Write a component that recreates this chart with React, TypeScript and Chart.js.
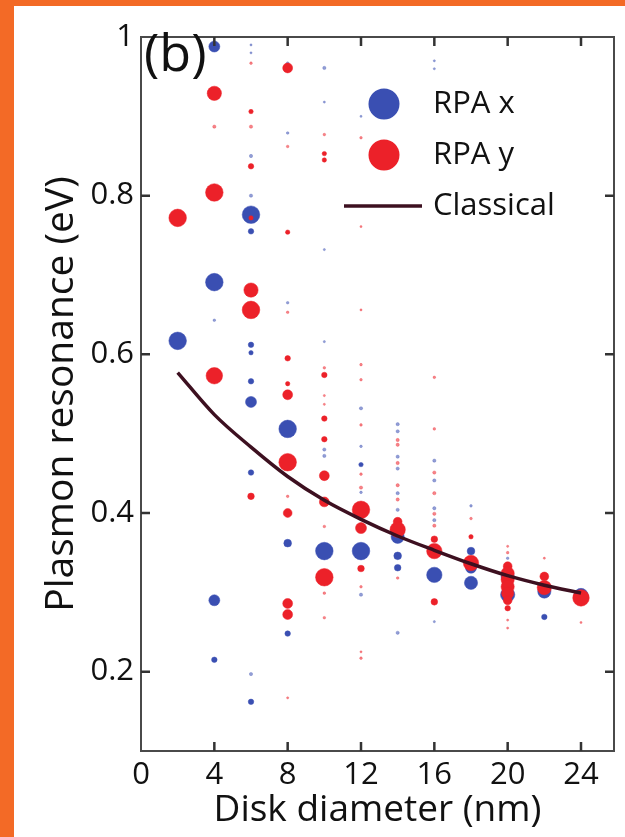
import React, { useEffect, useRef } from "react";
import { Chart, registerables } from "chart.js";
Chart.register(...registerables);

// ---- data ----
const xTickValues = [0, 4, 8, 12, 16, 20, 24];
const yTickValues = [0.2, 0.4, 0.6, 0.8, 1.0];

const classicalDiameter = [2, 4, 6, 8, 10, 12, 14, 16, 18, 20, 22, 24];
const classicalEnergy = [0.577, 0.524, 0.483, 0.446, 0.416, 0.392, 0.371, 0.353, 0.336, 0.321, 0.309, 0.299];

// [disk diameter (nm), resonance (eV), strength]
const rpaX: [number, number, number][] = [
  [2, 0.617, 8],
  [4, 0.988, 5], [4, 0.691, 8], [4, 0.643, 1.2], [4, 0.29, 5], [4, 0.215, 2.5],
  [6, 0.99, 1], [6, 0.98, 1], [6, 0.85, 1.5], [6, 0.8, 1.5], [6, 0.776, 8], [6, 0.755, 2.5],
  [6, 0.612, 2.5], [6, 0.602, 2], [6, 0.566, 2.5], [6, 0.54, 5], [6, 0.451, 2.5], [6, 0.197, 1.5], [6, 0.162, 2.5],
  [8, 0.967, 1.2], [8, 0.879, 1.2], [8, 0.665, 1.2], [8, 0.506, 8], [8, 0.362, 3.5], [8, 0.248, 2.5],
  [10, 0.961, 1.5], [10, 0.918, 1], [10, 0.732, 1], [10, 0.616, 1], [10, 0.48, 1.5], [10, 0.472, 1.5], [10, 0.352, 8],
  [12, 0.9, 1], [12, 0.532, 1.5], [12, 0.484, 1.2], [12, 0.461, 2], [12, 0.426, 1.2], [12, 0.352, 8], [12, 0.297, 1.5],
  [14, 0.512, 1.5], [14, 0.503, 1.5], [14, 0.471, 1.5], [14, 0.456, 1.5], [14, 0.425, 1.5], [14, 0.404, 1.5],
  [14, 0.37, 6], [14, 0.346, 3.5], [14, 0.331, 3], [14, 0.249, 1.5],
  [16, 0.97, 1], [16, 0.96, 1], [16, 0.466, 1.5], [16, 0.441, 1.5], [16, 0.406, 1.5], [16, 0.391, 1.5], [16, 0.322, 7], [16, 0.263, 1],
  [18, 0.409, 1.2], [18, 0.352, 3.5], [18, 0.331, 5], [18, 0.312, 6],
  [20, 0.343, 1.2], [20, 0.32, 6], [20, 0.308, 5], [20, 0.297, 6.5],
  [22, 0.301, 6], [22, 0.269, 2.5],
  [24, 0.296, 6.5],
];

const rpaY: [number, number, number][] = [
  [2, 0.772, 8],
  [4, 0.929, 6.5], [4, 0.887, 1.5], [4, 0.804, 8], [4, 0.573, 7.5],
  [6, 0.967, 1.2], [6, 0.906, 2], [6, 0.887, 1.5], [6, 0.837, 2.5], [6, 0.772, 2], [6, 0.681, 6.5], [6, 0.656, 8], [6, 0.421, 3],
  [8, 0.961, 4.5], [8, 0.862, 1.2], [8, 0.754, 2], [8, 0.653, 1.2], [8, 0.595, 2.5], [8, 0.563, 2], [8, 0.549, 4.5],
  [8, 0.464, 8], [8, 0.421, 1.2], [8, 0.4, 4], [8, 0.286, 4.5], [8, 0.272, 4.5], [8, 0.167, 1],
  [10, 0.877, 1.2], [10, 0.853, 2], [10, 0.845, 2], [10, 0.583, 1.2], [10, 0.574, 2.5], [10, 0.548, 1], [10, 0.537, 1],
  [10, 0.519, 2.5], [10, 0.493, 2.5], [10, 0.447, 4.5], [10, 0.414, 4.5], [10, 0.383, 1.2], [10, 0.319, 8], [10, 0.299, 1.2], [10, 0.268, 1.2],
  [12, 0.873, 1.2], [12, 0.761, 1], [12, 0.656, 1], [12, 0.587, 1.2], [12, 0.568, 1.2], [12, 0.511, 1.2], [12, 0.449, 1.2],
  [12, 0.432, 1.5], [12, 0.404, 8], [12, 0.381, 5], [12, 0.33, 3], [12, 0.307, 1.2], [12, 0.225, 1], [12, 0.217, 1.2],
  [14, 0.492, 1.5], [14, 0.486, 1.5], [14, 0.463, 1.5], [14, 0.435, 1.5], [14, 0.417, 1.5], [14, 0.389, 4], [14, 0.379, 7], [14, 0.318, 1.2],
  [16, 0.571, 1.2], [16, 0.506, 1.2], [16, 0.451, 1.5], [16, 0.425, 1.5], [16, 0.399, 1.5], [16, 0.384, 1.5],
  [16, 0.367, 3], [16, 0.352, 7], [16, 0.288, 3],
  [18, 0.393, 1.2], [18, 0.37, 2], [18, 0.337, 7],
  [20, 0.358, 1], [20, 0.35, 1.2], [20, 0.333, 4], [20, 0.324, 6], [20, 0.316, 6], [20, 0.307, 6], [20, 0.299, 5.5],
  [20, 0.29, 4], [20, 0.28, 2.5], [20, 0.265, 1], [20, 0.255, 1],
  [22, 0.343, 1], [22, 0.32, 4], [22, 0.306, 6.5],
  [24, 0.293, 7.5], [24, 0.262, 1],
];

const legendLabels = ["RPA x", "RPA y", "Classical"];
const panelLabel = "(b)";

const FONT = "'Open Sans', 'DejaVu Sans', sans-serif";
const BLUE = "#3a4fb2";
const RED = "#ec2129";
const BLUE_FAINT = "rgba(58,79,178,0.55)";
const RED_FAINT = "rgba(236,33,41,0.55)";
const LINE = "#3d1020";
const TEXT = "#111111";
const SIZE_SCALE = 1.1;

// strength -> pixel radius via a display scale factor
const toPts = (arr: [number, number, number][]) =>
  arr.map(([x, y, s]) => ({ x, y, r: s * SIZE_SCALE, s }));

const framePlugin = {
  id: "frame",
  afterDraw(chart: any) {
    const { ctx, chartArea: a, scales } = chart;
    ctx.save();
    ctx.strokeStyle = "#4a4a4a";
    ctx.lineWidth = 2;
    ctx.strokeRect(a.left, a.top, a.right - a.left, a.bottom - a.top);
    ctx.strokeStyle = "#333";
    ctx.lineWidth = 2.5;
    const tl = 9;
    ctx.beginPath();
    for (const v of xTickValues) {
      if (v === 0) continue;
      const px = scales.x.getPixelForValue(v);
      ctx.moveTo(px, a.bottom);
      ctx.lineTo(px, a.bottom - tl);
      ctx.moveTo(px, a.top);
      ctx.lineTo(px, a.top + tl);
    }
    for (const v of yTickValues) {
      if (v >= 1) continue;
      const py = scales.y.getPixelForValue(v);
      ctx.moveTo(a.left, py);
      ctx.lineTo(a.left + tl, py);
      ctx.moveTo(a.right, py);
      ctx.lineTo(a.right - tl, py);
    }
    ctx.stroke();

    ctx.fillStyle = TEXT;
    ctx.font = `52px ${FONT}`;
    ctx.textBaseline = "top";
    ctx.textAlign = "left";
    ctx.fillText(panelLabel, a.left + 3, a.top - 7);

    const lx = a.left + 243;
    const ly = a.top + 67;
    const gap = 51;
    ctx.fillStyle = BLUE;
    ctx.beginPath();
    ctx.arc(lx, ly, 15.5, 0, Math.PI * 2);
    ctx.fill();
    ctx.fillStyle = RED;
    ctx.beginPath();
    ctx.arc(lx, ly + gap, 15.5, 0, Math.PI * 2);
    ctx.fill();
    ctx.strokeStyle = LINE;
    ctx.lineWidth = 3.5;
    ctx.beginPath();
    ctx.moveTo(lx - 40, ly + 2 * gap);
    ctx.lineTo(lx + 38, ly + 2 * gap);
    ctx.stroke();
    ctx.fillStyle = TEXT;
    ctx.font = `31px ${FONT}`;
    ctx.textBaseline = "middle";
    legendLabels.forEach((t, i) => ctx.fillText(t, lx + 49, ly + i * gap));
    ctx.restore();
  },
};

export default function App() {
  const ref = useRef<HTMLCanvasElement | null>(null);
  useEffect(() => {
    if (!ref.current) return;
    const faint = (c: any) => c.raw && c.raw.s < 2;
    const chart = new Chart(ref.current, {
      type: "bubble",
      data: {
        datasets: [
          {
            type: "line",
            label: "Classical",
            data: classicalDiameter.map((x, i) => ({ x, y: classicalEnergy[i] })),
            borderColor: LINE,
            borderWidth: 3.5,
            pointRadius: 0,
            tension: 0.4,
            cubicInterpolationMode: "monotone",
            fill: false,
          } as any,
          {
            label: "RPA y",
            data: toPts(rpaY),
            backgroundColor: (c: any) => (faint(c) ? RED_FAINT : RED),
            borderColor: (c: any) => (faint(c) ? RED_FAINT : RED),
            borderWidth: 0.5,
          } as any,
          {
            label: "RPA x",
            data: toPts(rpaX),
            backgroundColor: (c: any) => (faint(c) ? BLUE_FAINT : BLUE),
            borderColor: (c: any) => (faint(c) ? BLUE_FAINT : BLUE),
            borderWidth: 0.5,
          } as any,
        ],
      },
      options: {
        responsive: false,
        animation: false,
        devicePixelRatio: 1,
        layout: { padding: { top: 31, right: 11, left: 0, bottom: 0 } },
        plugins: { legend: { display: false }, tooltip: { enabled: false } },
        scales: {
          x: {
            type: "linear",
            min: 0,
            max: 25.8,
            afterBuildTicks: (s: any) => {
              s.ticks = xTickValues.map((v) => ({ value: v }));
            },
            afterFit: (s: any) => {
              s.height = 86;
            },
            ticks: {
              font: { family: FONT, size: 31, lineHeight: 1.1 },
              color: TEXT,
              padding: 7,
              maxRotation: 0,
              autoSkip: false,
            },
            grid: { display: false, drawTicks: false },
            border: { display: false },
            title: {
              display: true,
              text: "Disk diameter (nm)",
              font: { family: FONT, size: 37, lineHeight: 1.1 },
              color: TEXT,
              padding: { top: 0, bottom: 6 },
            },
          },
          y: {
            type: "linear",
            min: 0.1,
            max: 1.0,
            afterBuildTicks: (s: any) => {
              s.ticks = yTickValues.map((v) => ({ value: v }));
            },
            afterFit: (s: any) => {
              s.width = 127;
            },
            ticks: {
              font: { family: FONT, size: 31 },
              color: TEXT,
              padding: 7,
              callback: (v: any) => (Number(v) >= 1 ? "1" : Number(v).toFixed(1)),
            },
            grid: { display: false, drawTicks: false },
            border: { display: false },
            title: {
              display: true,
              text: "Plasmon resonance (eV)",
              font: { family: FONT, size: 39, lineHeight: 1.2 },
              color: TEXT,
              padding: { top: 24, bottom: 0 },
            },
          },
        },
      },
      plugins: [framePlugin],
    });
    return () => chart.destroy();
  }, []);

  return (
    <div style={{ position: "absolute", left: 0, top: 0, width: 625, height: 837, background: "#f36a26", overflow: "hidden" }}>
      <div style={{ position: "absolute", left: 14, top: 6, width: 611, height: 831, background: "#ffffff" }}>
        <canvas ref={ref} width={611} height={831} style={{ display: "block", width: 611, height: 831 }} />
      </div>
    </div>
  );
}
